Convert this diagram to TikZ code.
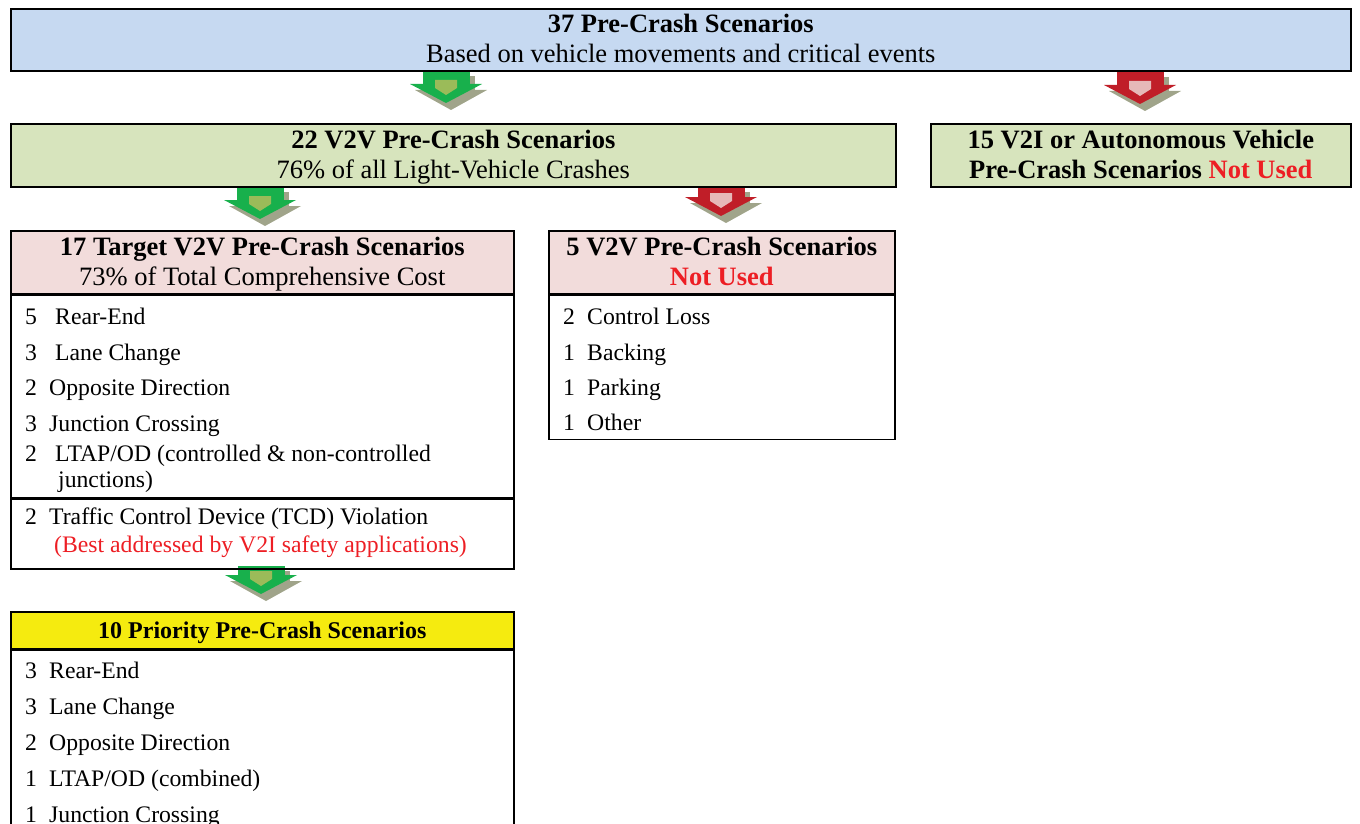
\documentclass[tikz,border=0pt]{standalone}
\usepackage{fontspec}
\setmainfont{Liberation Serif}
\usetikzlibrary{positioning}

\definecolor{topblue}{RGB}{198,217,241}
\definecolor{boxgreen}{RGB}{215,228,189}
\definecolor{headpink}{RGB}{242,220,219}
\definecolor{prioyellow}{RGB}{245,235,15}
\definecolor{notred}{RGB}{237,30,36}
\definecolor{arrowgreen}{RGB}{24,176,76}
\definecolor{innergreen}{RGB}{155,187,89}
\definecolor{arrowred}{RGB}{192,30,40}
\definecolor{innerred}{RGB}{230,185,184}
\definecolor{arrowshadow}{RGB}{160,164,138}

% block arrow: x centre, top of shaft, top of head, outer colour, inner colour
\newcommand{\crasharrow}[5]{%
  \fill[arrowshadow] (#1-18.5,#2+5) rectangle (#1+28.5,#3+6);
  \fill[arrowshadow] (#1-31,#3+6) -- (#1+41,#3+6) -- (#1+5,#3+26) -- cycle;
  \fill[#4] (#1-23.5,#2) rectangle (#1+23.5,#3+0.5);
  \fill[#4] (#1-36,#3) -- (#1+36,#3) -- (#1,#3+19) -- cycle;
  \fill[#5] (#1-11,#3-4) -- (#1+11,#3-4) -- (#1+11,#3+4) -- (#1,#3+11) -- (#1-11,#3+4) -- cycle;
}

\tikzset{
  box/.style={draw=black, line width=1.6pt, inner sep=0pt, anchor=north west,
    align=center, text height=50pt, text depth=4pt,
    font=\fontsize{26.5}{30}\selectfont},
  listbox/.style={draw=black, line width=1.6pt, inner sep=0pt, anchor=north west},
  item/.style={anchor=base west, inner sep=0pt, font=\fontsize{23.7}{28}\selectfont}
}

\begin{document}
\begin{tikzpicture}[x=1pt,y=-1pt]
    \useasboundingbox (0,0) rectangle (1360,824);
    \clip (0,0) rectangle (1360,824);

    % arrows
    \crasharrow{446}{71}{84}{arrowgreen}{innergreen}
    \crasharrow{1140}{72}{85}{arrowred}{innerred}
    \crasharrow{260}{187}{200}{arrowgreen}{innergreen}
    \crasharrow{721}{187}{197}{arrowred}{innerred}
    \crasharrow{261}{566}{575}{arrowgreen}{innergreen}

    % top level
    \node[box, fill=topblue, minimum width=1340pt, minimum height=62pt] (all) at (10,8)
        {\textbf{37 Pre-Crash Scenarios}\\Based on vehicle movements and critical events};

    % second level
    \node[box, fill=boxgreen, minimum width=885pt, minimum height=63pt] (v2v) at (10,123)
        {\textbf{22 V2V Pre-Crash Scenarios}\\76\% of all Light-Vehicle Crashes};
    \node[box, fill=boxgreen, minimum width=420pt, minimum height=63pt] (v2i) at (930,123)
        {\textbf{15 V2I or Autonomous Vehicle}\\\textbf{Pre-Crash Scenarios \textcolor{notred}{Not Used}}};

    % target scenarios
    \node[box, fill=headpink, minimum width=503pt, minimum height=63pt] (target) at (10,230)
        {\textbf{17 Target V2V Pre-Crash Scenarios}\\73\% of Total Comprehensive Cost};
    \node[listbox, minimum width=503pt, minimum height=202pt] (targetlist) at (target.south west) {};
    \node[listbox, minimum width=503pt, minimum height=70pt] (tcd) at (targetlist.south west) {};
    \foreach \y/\n/\x/\t in {324/5/55/Rear-End, 360/3/55/Lane Change,
        395/2/49/Opposite Direction, 431/3/49/Junction Crossing,
        461/2/55/{LTAP/OD (controlled \& non-controlled}, 524/2/49/Traffic Control Device (TCD) Violation}{
        \node[item] (tn\y) at (25,\y) {\n};
        \node[item] (tt\y) at (\x,\y) {\t};
    }
    \node[item] (tjunc) at (58,487) {junctions)};
    \node[item, text=notred] (tbest) at (54,552) {(Best addressed by V2I safety applications)};

    % scenarios not used
    \node[box, fill=headpink, minimum width=346pt, minimum height=63pt] (unused) at (548,230)
        {\textbf{5 V2V Pre-Crash Scenarios}\\\textbf{\textcolor{notred}{Not Used}}};
    \node[listbox, minimum width=346pt, minimum height=144pt] (unusedlist) at (unused.south west) {};
    \foreach \y/\n/\t in {324/2/Control Loss, 360/1/Backing, 395/1/Parking, 430/1/Other}{
        \node[item] (un\y) at (563,\y) {\n};
        \node[item] (ut\y) at (587,\y) {\t};
    }

    % priority scenarios
    \node[box, fill=prioyellow, minimum width=503pt, minimum height=37pt,
        text height=18pt, text depth=1pt, font=\fontsize{24}{28}\selectfont\bfseries] (prio) at (10,611)
        {10 Priority Pre-Crash Scenarios};
    \node[listbox, minimum width=503pt, minimum height=250pt] (priolist) at (prio.south west) {};
    \foreach \y/\n/\t in {678/3/Rear-End, 714/3/Lane Change, 750/2/Opposite Direction,
        786/1/{LTAP/OD (combined)}, 822/1/Junction Crossing}{
        \node[item] (pn\y) at (25,\y) {\n};
        \node[item] (pt\y) at (49,\y) {\t};
    }
\end{tikzpicture}
\end{document}
